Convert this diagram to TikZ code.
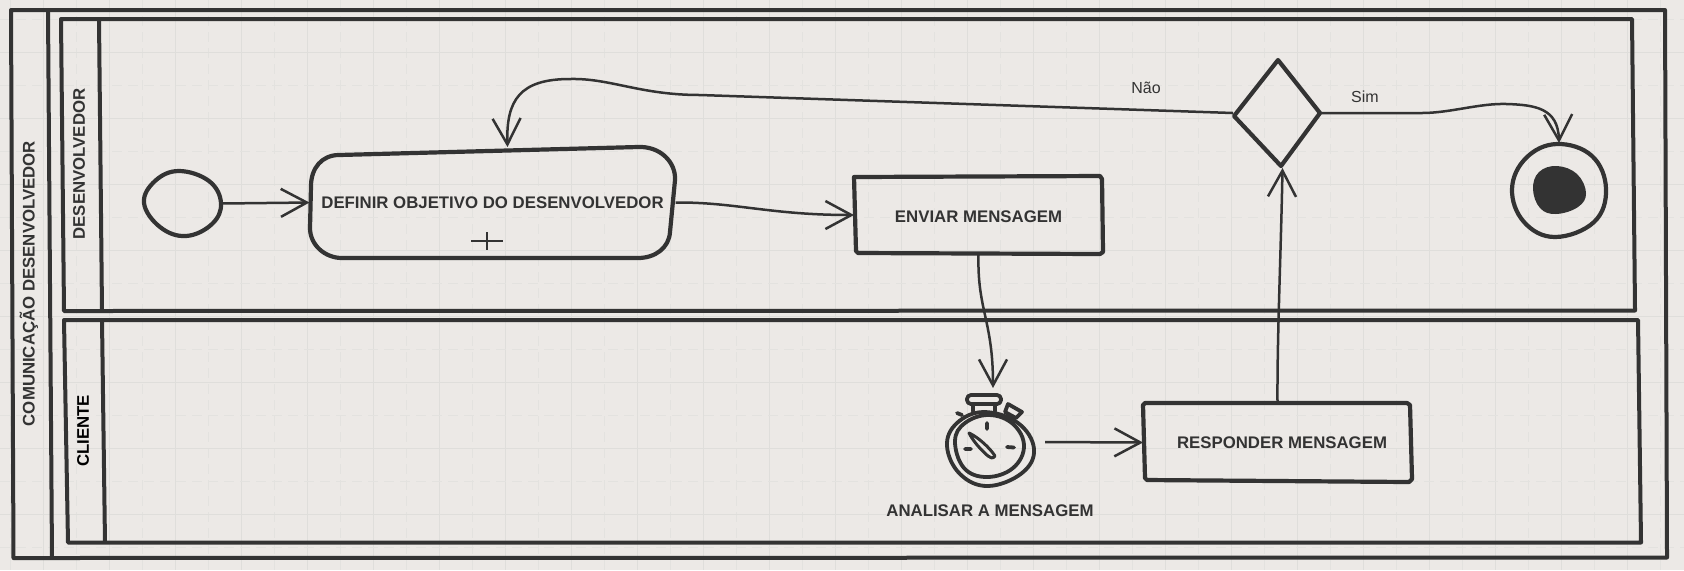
\documentclass[tikz,border=0pt]{standalone}
\usepackage{fontspec}
\setmainfont{Liberation Sans}
\usetikzlibrary{arrows.meta}
\definecolor{bgc}{HTML}{ECE9E6}
\definecolor{gridc}{HTML}{DFDEDB}
\definecolor{gridd}{HTML}{E3E2DF}
\definecolor{ink}{HTML}{333333}
\tikzset{
  frameline/.style={draw=ink,line width=2pt,line join=round},
  shapeline/.style={draw=ink,line width=2.1pt,line join=round},
  timerline/.style={draw=ink,line width=1.9pt,line join=round,line cap=round},
  flow/.style={draw=ink,line width=1.25pt,-{Straight Barb[length=13pt,width=14pt,line width=1.25pt]}},
  anchorbox/.style={inner sep=0pt,outer sep=0pt,rectangle},
  tasklabel/.style={anchorbox,font=\fontsize{8.4}{10}\selectfont\bfseries,text=ink},
  lanelabel/.style={anchorbox,font=\fontsize{8.4}{10}\selectfont\bfseries,text=ink,rotate=90},
  edgelabel/.style={anchorbox,font=\fontsize{8}{10}\selectfont,text=ink}
}
\begin{document}
\begin{tikzpicture}[x=0.5pt,y=-0.5pt]
\useasboundingbox (0,0) rectangle (1684,570);
\fill[bgc] (0,0) rectangle (1684,570);
% grid
\foreach \k in {0,...,25} {
  \draw[gridd,line width=0.5pt,dash pattern=on 5pt off 3pt] ({10+66*\k},0) -- ({10+66*\k},570);
  \draw[gridc,line width=0.5pt] ({43+66*\k},0) -- ({43+66*\k},570);
}
\foreach \k in {0,...,8} {
  \draw[gridd,line width=0.5pt,dash pattern=on 5pt off 3pt] (0,{19+66*\k}) -- (1684,{19+66*\k});
  \draw[gridc,line width=0.5pt] (0,{52+66*\k}) -- (1684,{52+66*\k});
}
% pool
\draw[frameline] (11,10) -- (1665,10) -- (1667,557.5) -- (13.5,558) -- cycle;
\draw[frameline] (48,10) -- (52,558);
% lanes
\draw[frameline] (61,19) -- (1632,19) -- (1635,310.5) -- (64,311) -- cycle;
\draw[frameline] (99,19) -- (102,311);
\draw[frameline] (64,320) -- (1638,320) -- (1641,542.5) -- (68,542.5) -- cycle;
\draw[frameline] (102,320) -- (105,542.5);
% lane labels
\node[lanelabel] (pool) at (29,283.5) {COMUNICAÇÃO DESENVOLVEDOR};
\node[lanelabel] (lane1) at (79,164) {DESENVOLVEDOR};
\node[lanelabel,text=black] (lane2) at (83,431) {CLIENTE};
% start
\node[anchorbox,minimum width=39pt,minimum height=32.5pt] (start) at (182.5,203.5) {};
\draw[shapeline] plot[smooth cycle,tension=0.67] coordinates {(221,203) (212,224) (186,236) (160,227) (144,203) (155,181) (179,171) (209,181)};
% task 1
\node[tasklabel,minimum width=183pt,minimum height=55.5pt] (t1) at (492.5,202.5) {DEFINIR OBJETIVO DO DESENVOLVEDOR};
\draw[shapeline] (339,155) -- (638,147) .. controls (660,146) and (676,162) .. (675,180) -- (670,232) .. controls (669,248) and (655,258) .. (638,258) -- (342,258) .. controls (325,258) and (310,245) .. (310,228) -- (311,186) .. controls (311,168) and (322,155) .. (339,155) -- cycle;
\draw[draw=ink,line width=1.3pt] (471,241) -- (503,241) (487,232) -- (487,250);
% task 2
\node[tasklabel,minimum width=124.5pt,minimum height=37pt] (t2) at (978.5,217) {ENVIAR MENSAGEM};
\draw[shapeline] (854,177) -- (1100,176) -- (1102,179) -- (1103,252) -- (1100,254) -- (858,253) -- (856,251) -- cycle;
% timer
\node[anchorbox,minimum width=52pt,minimum height=54pt] (timer) at (993,442) {};
\draw[timerline] plot[smooth cycle,tension=0.67] coordinates {(1034,449) (1022,473) (988,486) (960,474) (947,446) (957,423) (984,412) (1018,423)};
\draw[timerline] plot[smooth cycle,tension=0.67] coordinates {(1024,446) (1013,468) (987,477) (964,468) (955,441) (965,423) (989,415) (1013,424)};
\draw[timerline,fill=bgc,rounded corners=2pt] (967,395) -- (1001,395) -- (1001,404) -- (967,404) -- cycle;
\draw[timerline] (973,405) -- (973,411) (995,405) -- (995,411);
\draw[timerline,fill=bgc] (1008,404) -- (1022,412) -- (1016,418) -- (1005,412) -- cycle;
\draw[timerline] (957,413) -- (962,415);
\draw[timerline] (987,423) -- (987,429) (965,449) -- (971,449) (1007,447) -- (1014,447.5);
\draw[draw=ink,line width=1.5pt,line join=round] (969,433) .. controls (978,437) and (990,448) .. (995,456) .. controls (993,459) and (990,458) .. (988,456) .. controls (981,450) and (973,441) .. (969,433) -- cycle;
\node[tasklabel] (timerlabel) at (990,511) {ANALISAR A MENSAGEM};
% task 3
\node[tasklabel,minimum width=134.5pt,minimum height=39pt] (t3) at (1277.5,442.5) {\hspace*{4.5pt}RESPONDER MENSAGEM};
\draw[shapeline] (1143,405) -- (1145,403) -- (1407,403) -- (1410,405) -- (1412,479) -- (1409,482) -- (1147,480) -- (1145,478) -- cycle;
% gateway
\node[anchorbox,minimum width=43.5pt,minimum height=53pt] (dia) at (1276.5,113) {};
\draw[shapeline,line cap=round] (1278,60) -- (1320,113) -- (1281,166) -- (1234,116) -- cycle;
% end
\node[anchorbox,minimum width=47pt,minimum height=47pt] (end) at (1559,190) {};
\draw[shapeline] plot[smooth cycle,tension=0.67] coordinates {(1606,189) (1594,222) (1555,237) (1524,222) (1512,189) (1526,158) (1557,144) (1592,156)};
\fill[ink] plot[smooth cycle,tension=0.67] coordinates {(1586,193) (1578,207) (1556,214) (1540,208) (1533,189) (1539,172) (1557,166) (1577,174)};
% connectors
\draw[flow] (start.east) -- (t1.west);
\draw[flow] (t1.east) .. controls (735,202) and (770,215) .. ([yshift=1pt]t2.west);
\draw[flow] (t2.south) .. controls (977,310) and (993,320) .. (timer.north);
\draw[flow] (timer.east) -- (t3.west);
\draw[flow] (t3.north) .. controls (1277,340) and (1281,250) .. ([xshift=3pt,yshift=-1pt]dia.south);
\draw[flow] (dia.west) -- (700,95) .. controls (640,95) and (610,78) .. (570,79) .. controls (520,79) and (506,100) .. ([xshift=7.5pt]t1.north);
\draw[flow] (dia.east) -- (1422,113) .. controls (1450,113) and (1480,103) .. (1507,104) .. controls (1535,105) and (1558,108) .. (end.north);
% edge labels
\node[edgelabel] (no) at (1146,88) {Não};
\node[edgelabel] (yes) at (1365,97) {Sim};
\end{tikzpicture}
\end{document}
